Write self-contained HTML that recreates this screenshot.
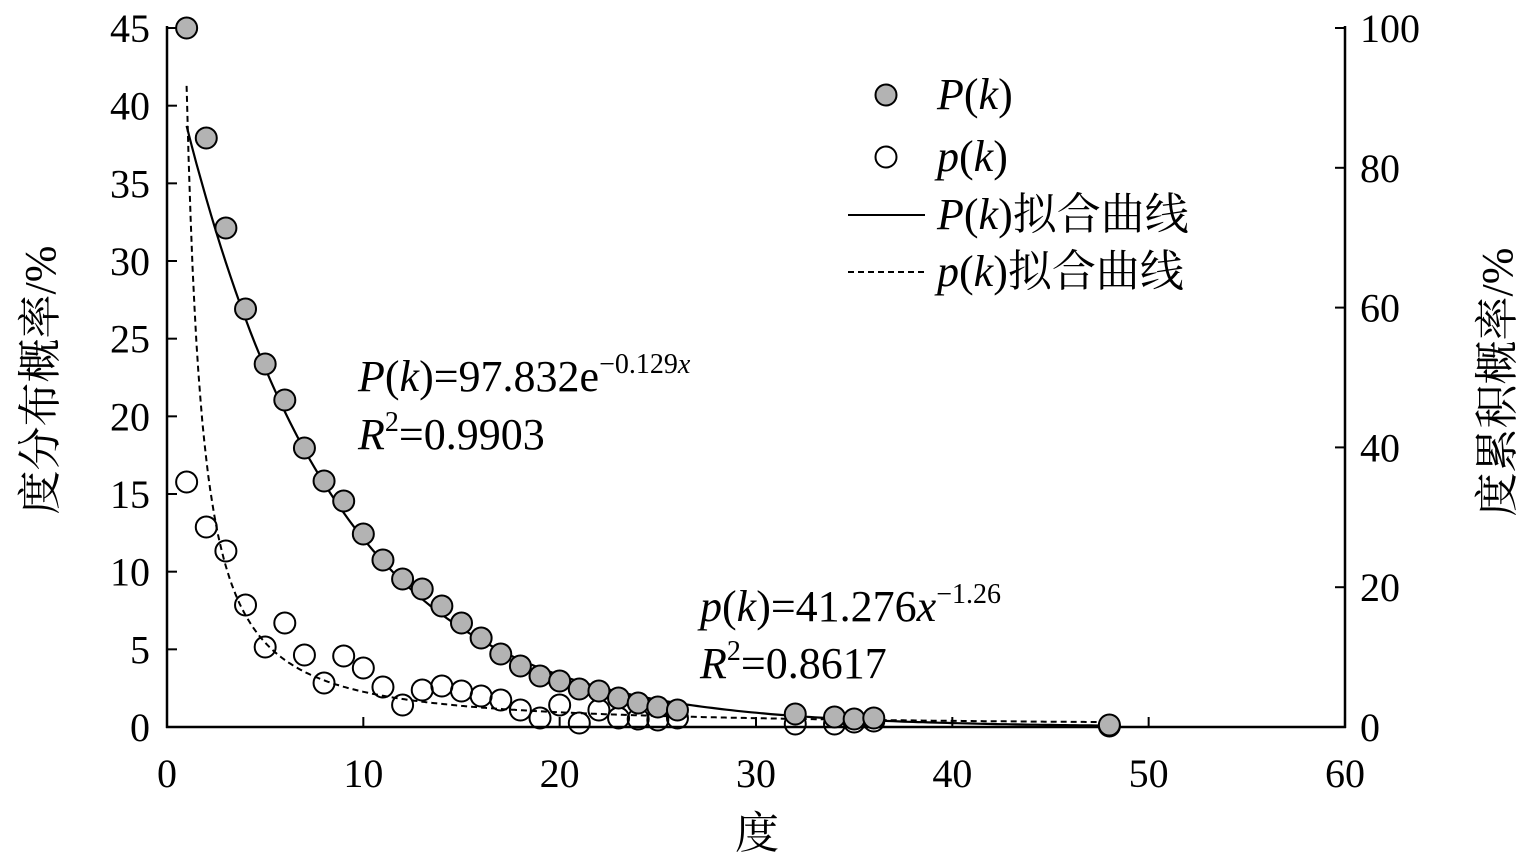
<!DOCTYPE html>
<html><head><meta charset="utf-8"><style>
html,body{margin:0;padding:0;background:#fff;}
svg{display:block;}
text{font-family:"Liberation Serif","Noto Serif CJK SC",serif;}
</style></head><body>
<svg width="1535" height="858" viewBox="0 0 1535 858" xmlns="http://www.w3.org/2000/svg">
<g stroke="#000" stroke-width="2.5" fill="none">
<line x1="167" y1="26" x2="167" y2="728"/>
<line x1="1345" y1="26" x2="1345" y2="728"/>
<line x1="166" y1="727" x2="1346" y2="727"/>
</g>
<g id="ticks" stroke="#000" stroke-width="2"></g>
<g id="labels" font-size="40" fill="#000"></g>
<text x="757" y="848" font-size="44" text-anchor="middle">度</text>
<text transform="translate(55,380) rotate(-90)" font-size="44" text-anchor="middle">度分布概率/%</text>
<text transform="translate(1512,382) rotate(-90)" font-size="44" text-anchor="middle">度累积概率/%</text>
<path id="solid" fill="none" stroke="#000" stroke-width="2.2"/>
<path id="dashed" fill="none" stroke="#000" stroke-width="2" stroke-dasharray="6,4"/>
<g id="pts"></g>
<circle cx="886" cy="95" r="10.5" fill="#b3b3b3" stroke="#000" stroke-width="2"/>
<circle cx="886" cy="157" r="10.5" fill="#fff" stroke="#000" stroke-width="2"/>
<line x1="848" y1="215" x2="925" y2="215" stroke="#000" stroke-width="2"/>
<line x1="848" y1="272" x2="925" y2="272" stroke="#000" stroke-width="2" stroke-dasharray="6,4"/>
<g font-size="44">
<text x="937" y="109"><tspan font-style="italic">P</tspan>(<tspan font-style="italic">k</tspan>)</text>
<text x="937" y="171"><tspan font-style="italic">p</tspan>(<tspan font-style="italic">k</tspan>)</text>
<text x="937" y="229"><tspan font-style="italic">P</tspan>(<tspan font-style="italic">k</tspan>)拟合曲线</text>
<text x="937" y="286"><tspan font-style="italic">p</tspan>(<tspan font-style="italic">k</tspan>)拟合曲线</text>
<text x="358" y="391"><tspan font-style="italic">P</tspan>(<tspan font-style="italic">k</tspan>)=97.832e<tspan font-size="28" dy="-18">−0.129<tspan font-style="italic">x</tspan></tspan></text>
<text x="358" y="449"><tspan font-style="italic">R</tspan><tspan font-size="28" dy="-18">2</tspan><tspan dy="18">=0.9903</tspan></text>
<text x="700" y="621"><tspan font-style="italic">p</tspan>(<tspan font-style="italic">k</tspan>)=41.276<tspan font-style="italic">x</tspan><tspan font-size="28" dy="-18">−1.26</tspan></text>
<text x="700" y="678"><tspan font-style="italic">R</tspan><tspan font-size="28" dy="-18">2</tspan><tspan dy="18">=0.8617</tspan></text>
</g>
</svg>
<script>
var ns="http://www.w3.org/2000/svg";
function X(v){return 167+v*19.633;}
var t=document.getElementById('ticks'),L=document.getElementById('labels');
function el(p,n,a,txt){var e=document.createElementNS(ns,n);for(var k in a)e.setAttribute(k,a[k]);if(txt!=null)e.textContent=txt;p.appendChild(e);}
for(var i=0;i<=60;i+=10){var x=X(i);el(t,'line',{x1:x,y1:727,x2:x,y2:717});el(L,'text',{x:x,y:787,'text-anchor':'middle'},i);}
for(var i=0;i<=45;i+=5){var y=727-i*15.533;el(t,'line',{x1:167,y1:y,x2:177,y2:y});el(L,'text',{x:150,y:y+14,'text-anchor':'end'},i);}
for(var i=0;i<=100;i+=20){var y=727-i*6.99;el(t,'line',{x1:1345,y1:y,x2:1335,y2:y});el(L,'text',{x:1360,y:y+14},i);}
var s='',d='';
for(var x=1;x<=48;x+=0.25){var y=727-97.832*Math.exp(-0.129*x)*6.99;s+=(x==1?'M':'L')+X(x).toFixed(1)+','+y.toFixed(1);}
for(var x=1;x<=48;x+=0.1){var y=727-41.276*Math.pow(x,-1.26)*15.533;d+=(x==1?'M':'L')+X(x).toFixed(1)+','+y.toFixed(1);}
document.getElementById('solid').setAttribute('d',s);document.getElementById('dashed').setAttribute('d',d);
var G=[[1,28],[2,138],[3,228],[4,309],[5,364],[6,400],[7,448],[8,481],[9,501],[10,534],[11,560],[12,579],[13,589],[14,606],[15,623],[16,638],[17,654],[18,666],[19,676],[20,681],[21,689],[22,691],[23,698],[24,703],[25,707],[26,710],[32,714],[34,717],[35,719],[36,718],[48,725]];
var O=[[1,482],[2,527],[3,551],[4,605],[5,647],[6,623],[7,655],[8,683],[9,656],[10,668],[11,687],[12,705],[13,690],[14,686],[15,691],[16,696],[17,700],[18,710],[19,718],[20,705],[21,723],[22,710],[23,718],[24,719],[25,720],[26,718],[32,724],[34,724],[35,722],[36,721],[48,726]];
var P=document.getElementById('pts');
O.forEach(function(p){el(P,'circle',{cx:X(p[0]),cy:p[1],r:10.5,fill:'none',stroke:'#000','stroke-width':2});});
G.forEach(function(p){el(P,'circle',{cx:X(p[0]),cy:p[1],r:10.5,fill:'#b3b3b3',stroke:'#000','stroke-width':2});});
</script>
</body></html>
